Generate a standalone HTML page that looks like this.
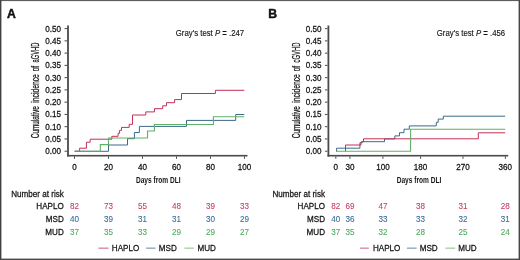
<!DOCTYPE html><html><head><meta charset="utf-8"><style>
html,body{margin:0;padding:0;background:#fff;overflow:hidden;}
svg{display:block;font-family:"Liberation Sans",sans-serif;}
#g{filter:blur(0.35px);}
</style></head><body>
<svg width="520" height="260" viewBox="0 0 520 260">
<rect x="0" y="0" width="520" height="260" fill="#fff"/>
<g id="g">
<rect x="67.10" y="25.5" width="1.8" height="131" fill="#4a4a4a"/>
<rect x="67.10" y="154.9" width="180.40" height="1.6" fill="#4a4a4a"/>
<rect x="64.50" y="28.10" width="2.6" height="1" fill="#4a4a4a"/>
<text transform="translate(61.00,31.50) scale(1,1.15)" font-size="8.1" fill="#141414" stroke="#141414" stroke-width="0.24" text-anchor="end">0.50</text>
<rect x="64.50" y="40.36" width="2.6" height="1" fill="#4a4a4a"/>
<text transform="translate(61.00,43.76) scale(1,1.15)" font-size="8.1" fill="#141414" stroke="#141414" stroke-width="0.24" text-anchor="end">0.45</text>
<rect x="64.50" y="52.62" width="2.6" height="1" fill="#4a4a4a"/>
<text transform="translate(61.00,56.02) scale(1,1.15)" font-size="8.1" fill="#141414" stroke="#141414" stroke-width="0.24" text-anchor="end">0.40</text>
<rect x="64.50" y="64.88" width="2.6" height="1" fill="#4a4a4a"/>
<text transform="translate(61.00,68.28) scale(1,1.15)" font-size="8.1" fill="#141414" stroke="#141414" stroke-width="0.24" text-anchor="end">0.35</text>
<rect x="64.50" y="77.14" width="2.6" height="1" fill="#4a4a4a"/>
<text transform="translate(61.00,80.54) scale(1,1.15)" font-size="8.1" fill="#141414" stroke="#141414" stroke-width="0.24" text-anchor="end">0.30</text>
<rect x="64.50" y="89.40" width="2.6" height="1" fill="#4a4a4a"/>
<text transform="translate(61.00,92.80) scale(1,1.15)" font-size="8.1" fill="#141414" stroke="#141414" stroke-width="0.24" text-anchor="end">0.25</text>
<rect x="64.50" y="101.66" width="2.6" height="1" fill="#4a4a4a"/>
<text transform="translate(61.00,105.06) scale(1,1.15)" font-size="8.1" fill="#141414" stroke="#141414" stroke-width="0.24" text-anchor="end">0.20</text>
<rect x="64.50" y="113.92" width="2.6" height="1" fill="#4a4a4a"/>
<text transform="translate(61.00,117.32) scale(1,1.15)" font-size="8.1" fill="#141414" stroke="#141414" stroke-width="0.24" text-anchor="end">0.15</text>
<rect x="64.50" y="126.18" width="2.6" height="1" fill="#4a4a4a"/>
<text transform="translate(61.00,129.58) scale(1,1.15)" font-size="8.1" fill="#141414" stroke="#141414" stroke-width="0.24" text-anchor="end">0.10</text>
<rect x="64.50" y="138.44" width="2.6" height="1" fill="#4a4a4a"/>
<text transform="translate(61.00,141.84) scale(1,1.15)" font-size="8.1" fill="#141414" stroke="#141414" stroke-width="0.24" text-anchor="end">0.05</text>
<rect x="64.50" y="150.70" width="2.6" height="1" fill="#4a4a4a"/>
<text transform="translate(61.00,154.10) scale(1,1.15)" font-size="8.1" fill="#141414" stroke="#141414" stroke-width="0.24" text-anchor="end">0.00</text>
<rect x="74.00" y="156.4" width="1" height="2.4" fill="#4a4a4a"/>
<text transform="translate(74.50,169.60) scale(1,1.15)" font-size="8.1" fill="#141414" stroke="#141414" stroke-width="0.24" text-anchor="middle">0</text>
<rect x="108.00" y="156.4" width="1" height="2.4" fill="#4a4a4a"/>
<text transform="translate(108.50,169.60) scale(1,1.15)" font-size="8.1" fill="#141414" stroke="#141414" stroke-width="0.24" text-anchor="middle">20</text>
<rect x="142.00" y="156.4" width="1" height="2.4" fill="#4a4a4a"/>
<text transform="translate(142.50,169.60) scale(1,1.15)" font-size="8.1" fill="#141414" stroke="#141414" stroke-width="0.24" text-anchor="middle">40</text>
<rect x="176.00" y="156.4" width="1" height="2.4" fill="#4a4a4a"/>
<text transform="translate(176.50,169.60) scale(1,1.15)" font-size="8.1" fill="#141414" stroke="#141414" stroke-width="0.24" text-anchor="middle">60</text>
<rect x="210.00" y="156.4" width="1" height="2.4" fill="#4a4a4a"/>
<text transform="translate(210.50,169.60) scale(1,1.15)" font-size="8.1" fill="#141414" stroke="#141414" stroke-width="0.24" text-anchor="middle">80</text>
<rect x="244.00" y="156.4" width="1" height="2.4" fill="#4a4a4a"/>
<text transform="translate(244.50,169.60) scale(1,1.15)" font-size="8.1" fill="#141414" stroke="#141414" stroke-width="0.24" text-anchor="middle">100</text>
<text x="7.00" y="17.7" font-size="12.2" font-weight="bold" fill="#111" stroke="#111" stroke-width="0.45">A</text>
<text transform="translate(175.80,36.10) scale(1,1.15)" font-size="7.8" fill="#141414" stroke="#141414" stroke-width="0.12" text-anchor="start">Gray's test <tspan font-style="italic">P</tspan> <tspan font-weight="bold">=</tspan> .247</text>
<text transform="translate(38.80,138.22) rotate(-90) scale(0.616,1)" font-size="10.4" fill="#141414" stroke="#141414" stroke-width="0.25">Cumulative</text>
<text transform="translate(38.80,102.72) rotate(-90) scale(0.651,1)" font-size="10.4" fill="#141414" stroke="#141414" stroke-width="0.25">incidence</text>
<text transform="translate(38.80,71.33) rotate(-90) scale(0.624,1)" font-size="10.4" fill="#141414" stroke="#141414" stroke-width="0.25">of</text>
<text transform="translate(38.80,62.42) rotate(-90) scale(0.553,1)" font-size="10.4" fill="#141414" stroke="#141414" stroke-width="0.25">aGVHD</text>
<text transform="translate(135.90,183.4) scale(0.68,1)" font-size="9.7" font-weight="bold" fill="#141414">Days from DLI</text>
<text transform="translate(63.80,197.10) scale(1,1.15)" font-size="8.1" fill="#141414" stroke="#141414" stroke-width="0.24" text-anchor="end">Number at risk</text>
<text transform="translate(63.80,209.40) scale(1,1.15)" font-size="8.1" fill="#141414" stroke="#141414" stroke-width="0.24" text-anchor="end">HAPLO</text>
<text transform="translate(74.50,209.40) scale(1,1.15)" font-size="8.1" fill="#c63d60" stroke="#c63d60" stroke-width="0.08" text-anchor="middle">82</text>
<text transform="translate(108.50,209.40) scale(1,1.15)" font-size="8.1" fill="#c63d60" stroke="#c63d60" stroke-width="0.08" text-anchor="middle">73</text>
<text transform="translate(142.50,209.40) scale(1,1.15)" font-size="8.1" fill="#c63d60" stroke="#c63d60" stroke-width="0.08" text-anchor="middle">55</text>
<text transform="translate(176.50,209.40) scale(1,1.15)" font-size="8.1" fill="#c63d60" stroke="#c63d60" stroke-width="0.08" text-anchor="middle">48</text>
<text transform="translate(210.50,209.40) scale(1,1.15)" font-size="8.1" fill="#c63d60" stroke="#c63d60" stroke-width="0.08" text-anchor="middle">39</text>
<text transform="translate(244.50,209.40) scale(1,1.15)" font-size="8.1" fill="#c63d60" stroke="#c63d60" stroke-width="0.08" text-anchor="middle">33</text>
<text transform="translate(63.80,222.40) scale(1,1.15)" font-size="8.1" fill="#141414" stroke="#141414" stroke-width="0.24" text-anchor="end">MSD</text>
<text transform="translate(74.50,222.40) scale(1,1.15)" font-size="8.1" fill="#386a98" stroke="#386a98" stroke-width="0.08" text-anchor="middle">40</text>
<text transform="translate(108.50,222.40) scale(1,1.15)" font-size="8.1" fill="#386a98" stroke="#386a98" stroke-width="0.08" text-anchor="middle">39</text>
<text transform="translate(142.50,222.40) scale(1,1.15)" font-size="8.1" fill="#386a98" stroke="#386a98" stroke-width="0.08" text-anchor="middle">31</text>
<text transform="translate(176.50,222.40) scale(1,1.15)" font-size="8.1" fill="#386a98" stroke="#386a98" stroke-width="0.08" text-anchor="middle">31</text>
<text transform="translate(210.50,222.40) scale(1,1.15)" font-size="8.1" fill="#386a98" stroke="#386a98" stroke-width="0.08" text-anchor="middle">30</text>
<text transform="translate(244.50,222.40) scale(1,1.15)" font-size="8.1" fill="#386a98" stroke="#386a98" stroke-width="0.08" text-anchor="middle">29</text>
<text transform="translate(63.80,234.70) scale(1,1.15)" font-size="8.1" fill="#141414" stroke="#141414" stroke-width="0.24" text-anchor="end">MUD</text>
<text transform="translate(74.50,234.70) scale(1,1.15)" font-size="8.1" fill="#4aaa58" stroke="#4aaa58" stroke-width="0.08" text-anchor="middle">37</text>
<text transform="translate(108.50,234.70) scale(1,1.15)" font-size="8.1" fill="#4aaa58" stroke="#4aaa58" stroke-width="0.08" text-anchor="middle">35</text>
<text transform="translate(142.50,234.70) scale(1,1.15)" font-size="8.1" fill="#4aaa58" stroke="#4aaa58" stroke-width="0.08" text-anchor="middle">33</text>
<text transform="translate(176.50,234.70) scale(1,1.15)" font-size="8.1" fill="#4aaa58" stroke="#4aaa58" stroke-width="0.08" text-anchor="middle">29</text>
<text transform="translate(210.50,234.70) scale(1,1.15)" font-size="8.1" fill="#4aaa58" stroke="#4aaa58" stroke-width="0.08" text-anchor="middle">29</text>
<text transform="translate(244.50,234.70) scale(1,1.15)" font-size="8.1" fill="#4aaa58" stroke="#4aaa58" stroke-width="0.08" text-anchor="middle">27</text>
<rect x="327.50" y="25.5" width="1.8" height="131" fill="#4a4a4a"/>
<rect x="327.50" y="154.9" width="180.70" height="1.6" fill="#4a4a4a"/>
<rect x="324.90" y="28.10" width="2.6" height="1" fill="#4a4a4a"/>
<text transform="translate(321.40,31.50) scale(1,1.15)" font-size="8.1" fill="#141414" stroke="#141414" stroke-width="0.24" text-anchor="end">0.50</text>
<rect x="324.90" y="40.36" width="2.6" height="1" fill="#4a4a4a"/>
<text transform="translate(321.40,43.76) scale(1,1.15)" font-size="8.1" fill="#141414" stroke="#141414" stroke-width="0.24" text-anchor="end">0.45</text>
<rect x="324.90" y="52.62" width="2.6" height="1" fill="#4a4a4a"/>
<text transform="translate(321.40,56.02) scale(1,1.15)" font-size="8.1" fill="#141414" stroke="#141414" stroke-width="0.24" text-anchor="end">0.40</text>
<rect x="324.90" y="64.88" width="2.6" height="1" fill="#4a4a4a"/>
<text transform="translate(321.40,68.28) scale(1,1.15)" font-size="8.1" fill="#141414" stroke="#141414" stroke-width="0.24" text-anchor="end">0.35</text>
<rect x="324.90" y="77.14" width="2.6" height="1" fill="#4a4a4a"/>
<text transform="translate(321.40,80.54) scale(1,1.15)" font-size="8.1" fill="#141414" stroke="#141414" stroke-width="0.24" text-anchor="end">0.30</text>
<rect x="324.90" y="89.40" width="2.6" height="1" fill="#4a4a4a"/>
<text transform="translate(321.40,92.80) scale(1,1.15)" font-size="8.1" fill="#141414" stroke="#141414" stroke-width="0.24" text-anchor="end">0.25</text>
<rect x="324.90" y="101.66" width="2.6" height="1" fill="#4a4a4a"/>
<text transform="translate(321.40,105.06) scale(1,1.15)" font-size="8.1" fill="#141414" stroke="#141414" stroke-width="0.24" text-anchor="end">0.20</text>
<rect x="324.90" y="113.92" width="2.6" height="1" fill="#4a4a4a"/>
<text transform="translate(321.40,117.32) scale(1,1.15)" font-size="8.1" fill="#141414" stroke="#141414" stroke-width="0.24" text-anchor="end">0.15</text>
<rect x="324.90" y="126.18" width="2.6" height="1" fill="#4a4a4a"/>
<text transform="translate(321.40,129.58) scale(1,1.15)" font-size="8.1" fill="#141414" stroke="#141414" stroke-width="0.24" text-anchor="end">0.10</text>
<rect x="324.90" y="138.44" width="2.6" height="1" fill="#4a4a4a"/>
<text transform="translate(321.40,141.84) scale(1,1.15)" font-size="8.1" fill="#141414" stroke="#141414" stroke-width="0.24" text-anchor="end">0.05</text>
<rect x="324.90" y="150.70" width="2.6" height="1" fill="#4a4a4a"/>
<text transform="translate(321.40,154.10) scale(1,1.15)" font-size="8.1" fill="#141414" stroke="#141414" stroke-width="0.24" text-anchor="end">0.00</text>
<rect x="335.30" y="156.4" width="1" height="2.4" fill="#4a4a4a"/>
<text transform="translate(335.80,169.60) scale(1,1.15)" font-size="8.1" fill="#141414" stroke="#141414" stroke-width="0.24" text-anchor="middle">0</text>
<rect x="349.43" y="156.4" width="1" height="2.4" fill="#4a4a4a"/>
<text transform="translate(349.93,169.60) scale(1,1.15)" font-size="8.1" fill="#141414" stroke="#141414" stroke-width="0.24" text-anchor="middle">30</text>
<rect x="382.40" y="156.4" width="1" height="2.4" fill="#4a4a4a"/>
<text transform="translate(382.90,169.60) scale(1,1.15)" font-size="8.1" fill="#141414" stroke="#141414" stroke-width="0.24" text-anchor="middle">100</text>
<rect x="420.08" y="156.4" width="1" height="2.4" fill="#4a4a4a"/>
<text transform="translate(420.58,169.60) scale(1,1.15)" font-size="8.1" fill="#141414" stroke="#141414" stroke-width="0.24" text-anchor="middle">180</text>
<rect x="462.47" y="156.4" width="1" height="2.4" fill="#4a4a4a"/>
<text transform="translate(462.97,169.60) scale(1,1.15)" font-size="8.1" fill="#141414" stroke="#141414" stroke-width="0.24" text-anchor="middle">270</text>
<rect x="504.86" y="156.4" width="1" height="2.4" fill="#4a4a4a"/>
<text transform="translate(505.36,169.60) scale(1,1.15)" font-size="8.1" fill="#141414" stroke="#141414" stroke-width="0.24" text-anchor="middle">360</text>
<text x="268.30" y="17.7" font-size="12.2" font-weight="bold" fill="#111" stroke="#111" stroke-width="0.45">B</text>
<text transform="translate(436.80,36.10) scale(1,1.15)" font-size="7.8" fill="#141414" stroke="#141414" stroke-width="0.12" text-anchor="start">Gray's test <tspan font-style="italic">P</tspan> <tspan font-weight="bold">=</tspan> .456</text>
<text transform="translate(299.90,138.22) rotate(-90) scale(0.616,1)" font-size="10.4" fill="#141414" stroke="#141414" stroke-width="0.25">Cumulative</text>
<text transform="translate(299.90,102.72) rotate(-90) scale(0.651,1)" font-size="10.4" fill="#141414" stroke="#141414" stroke-width="0.25">incidence</text>
<text transform="translate(299.90,71.33) rotate(-90) scale(0.624,1)" font-size="10.4" fill="#141414" stroke="#141414" stroke-width="0.25">of</text>
<text transform="translate(299.90,62.42) rotate(-90) scale(0.563,1)" font-size="10.4" fill="#141414" stroke="#141414" stroke-width="0.25">cGVHD</text>
<text transform="translate(396.70,183.4) scale(0.68,1)" font-size="9.7" font-weight="bold" fill="#141414">Days from DLI</text>
<text transform="translate(325.00,197.10) scale(1,1.15)" font-size="8.1" fill="#141414" stroke="#141414" stroke-width="0.24" text-anchor="end">Number at risk</text>
<text transform="translate(325.00,209.40) scale(1,1.15)" font-size="8.1" fill="#141414" stroke="#141414" stroke-width="0.24" text-anchor="end">HAPLO</text>
<text transform="translate(335.80,209.40) scale(1,1.15)" font-size="8.1" fill="#c63d60" stroke="#c63d60" stroke-width="0.08" text-anchor="middle">82</text>
<text transform="translate(349.93,209.40) scale(1,1.15)" font-size="8.1" fill="#c63d60" stroke="#c63d60" stroke-width="0.08" text-anchor="middle">69</text>
<text transform="translate(382.90,209.40) scale(1,1.15)" font-size="8.1" fill="#c63d60" stroke="#c63d60" stroke-width="0.08" text-anchor="middle">47</text>
<text transform="translate(420.58,209.40) scale(1,1.15)" font-size="8.1" fill="#c63d60" stroke="#c63d60" stroke-width="0.08" text-anchor="middle">38</text>
<text transform="translate(462.97,209.40) scale(1,1.15)" font-size="8.1" fill="#c63d60" stroke="#c63d60" stroke-width="0.08" text-anchor="middle">31</text>
<text transform="translate(505.36,209.40) scale(1,1.15)" font-size="8.1" fill="#c63d60" stroke="#c63d60" stroke-width="0.08" text-anchor="middle">28</text>
<text transform="translate(325.00,222.40) scale(1,1.15)" font-size="8.1" fill="#141414" stroke="#141414" stroke-width="0.24" text-anchor="end">MSD</text>
<text transform="translate(335.80,222.40) scale(1,1.15)" font-size="8.1" fill="#386a98" stroke="#386a98" stroke-width="0.08" text-anchor="middle">40</text>
<text transform="translate(349.93,222.40) scale(1,1.15)" font-size="8.1" fill="#386a98" stroke="#386a98" stroke-width="0.08" text-anchor="middle">36</text>
<text transform="translate(382.90,222.40) scale(1,1.15)" font-size="8.1" fill="#386a98" stroke="#386a98" stroke-width="0.08" text-anchor="middle">33</text>
<text transform="translate(420.58,222.40) scale(1,1.15)" font-size="8.1" fill="#386a98" stroke="#386a98" stroke-width="0.08" text-anchor="middle">33</text>
<text transform="translate(462.97,222.40) scale(1,1.15)" font-size="8.1" fill="#386a98" stroke="#386a98" stroke-width="0.08" text-anchor="middle">32</text>
<text transform="translate(505.36,222.40) scale(1,1.15)" font-size="8.1" fill="#386a98" stroke="#386a98" stroke-width="0.08" text-anchor="middle">31</text>
<text transform="translate(325.00,234.70) scale(1,1.15)" font-size="8.1" fill="#141414" stroke="#141414" stroke-width="0.24" text-anchor="end">MUD</text>
<text transform="translate(335.80,234.70) scale(1,1.15)" font-size="8.1" fill="#4aaa58" stroke="#4aaa58" stroke-width="0.08" text-anchor="middle">37</text>
<text transform="translate(349.93,234.70) scale(1,1.15)" font-size="8.1" fill="#4aaa58" stroke="#4aaa58" stroke-width="0.08" text-anchor="middle">35</text>
<text transform="translate(382.90,234.70) scale(1,1.15)" font-size="8.1" fill="#4aaa58" stroke="#4aaa58" stroke-width="0.08" text-anchor="middle">32</text>
<text transform="translate(420.58,234.70) scale(1,1.15)" font-size="8.1" fill="#4aaa58" stroke="#4aaa58" stroke-width="0.08" text-anchor="middle">28</text>
<text transform="translate(462.97,234.70) scale(1,1.15)" font-size="8.1" fill="#4aaa58" stroke="#4aaa58" stroke-width="0.08" text-anchor="middle">25</text>
<text transform="translate(505.36,234.70) scale(1,1.15)" font-size="8.1" fill="#4aaa58" stroke="#4aaa58" stroke-width="0.08" text-anchor="middle">24</text>
<path d="M74.70,151.30 L108.50,151.30 L108.50,145.00 L127.50,145.00 L127.50,138.70 L134.40,138.70 L134.40,132.50 L139.40,132.50 L139.40,126.40 L186.50,126.40 L186.50,120.40 L235.70,120.40 L235.70,114.50 L244.30,114.50" fill="none" stroke="#3b6a88" stroke-width="1.0" stroke-linejoin="miter"/>
<path d="M74.70,151.30 L79.60,151.30 L79.60,148.20 L86.40,148.20 L86.40,142.20 L90.20,142.20 L90.20,139.20 L111.80,139.20 L111.80,136.30 L118.10,136.30 L118.10,133.30 L119.60,133.30 L119.60,130.30 L121.50,130.30 L121.50,127.40 L129.20,127.40 L129.20,124.30 L132.50,124.30 L132.50,115.00 L145.80,115.00 L145.80,111.90 L154.50,111.90 L154.50,108.70 L162.70,108.70 L162.70,105.80 L166.50,105.80 L166.50,102.70 L174.60,102.70 L174.60,99.60 L181.50,99.60 L181.50,93.50 L215.40,93.50 L215.40,90.30 L244.30,90.30" fill="none" stroke="#c42f58" stroke-width="1.0" stroke-linejoin="miter"/>
<path d="M74.70,151.30 L100.30,151.30 L100.30,144.60 L108.50,144.60 L108.50,138.00 L147.50,138.00 L147.50,131.00 L154.40,131.00 L154.40,124.50 L213.40,124.50 L213.40,116.80 L244.30,116.80" fill="none" stroke="#5fb068" stroke-width="1.1" stroke-linejoin="miter"/>
<path d="M336.00,151.30 L336.60,151.30 L336.60,148.20 L359.90,148.20 L359.90,142.80 L362.00,142.80 L362.00,141.70 L384.50,141.70 L384.50,138.90 L394.80,138.90 L394.80,135.90 L399.50,135.90 L399.50,132.70 L404.00,132.70 L404.00,129.20 L409.30,129.20 L409.30,125.90 L436.30,125.90 L436.30,122.30 L438.20,122.30 L438.20,119.10 L443.30,119.10 L443.30,116.20 L505.20,116.20" fill="none" stroke="#3b6a88" stroke-width="1.0" stroke-linejoin="miter"/>
<path d="M345.50,151.30 L345.50,151.30 L345.50,145.00 L361.00,145.00 L361.00,141.90 L363.50,141.90 L363.50,138.80 L478.30,138.80 L478.30,132.80 L505.20,132.80" fill="none" stroke="#c42f58" stroke-width="1.0" stroke-linejoin="miter"/>
<path d="M336.00,151.30 L410.60,151.30 L410.60,129.30 L505.20,129.30" fill="none" stroke="#5fb068" stroke-width="1.1" stroke-linejoin="miter"/>
<rect x="98.40" y="247.6" width="10.10" height="1.1" fill="#c42f58" opacity="0.72"/>
<text transform="translate(111.80,250.80) scale(1,1.15)" font-size="8.1" fill="#141414" stroke="#141414" stroke-width="0.24" text-anchor="start">HAPLO</text>
<rect x="146.10" y="247.6" width="9.40" height="1.1" fill="#3b6a88" opacity="0.72"/>
<text transform="translate(158.80,250.80) scale(1,1.15)" font-size="8.1" fill="#141414" stroke="#141414" stroke-width="0.24" text-anchor="start">MSD</text>
<rect x="184.40" y="247.6" width="9.40" height="1.1" fill="#5fb068" opacity="0.72"/>
<text transform="translate(197.50,250.80) scale(1,1.15)" font-size="8.1" fill="#141414" stroke="#141414" stroke-width="0.24" text-anchor="start">MUD</text>
<rect x="360.10" y="247.6" width="8.70" height="1.1" fill="#c42f58" opacity="0.72"/>
<text transform="translate(372.90,250.80) scale(1,1.15)" font-size="8.1" fill="#141414" stroke="#141414" stroke-width="0.24" text-anchor="start">HAPLO</text>
<rect x="406.90" y="247.6" width="9.70" height="1.1" fill="#3b6a88" opacity="0.72"/>
<text transform="translate(419.70,250.80) scale(1,1.15)" font-size="8.1" fill="#141414" stroke="#141414" stroke-width="0.24" text-anchor="start">MSD</text>
<rect x="445.40" y="247.6" width="9.70" height="1.1" fill="#5fb068" opacity="0.72"/>
<text transform="translate(458.20,250.80) scale(1,1.15)" font-size="8.1" fill="#141414" stroke="#141414" stroke-width="0.24" text-anchor="start">MUD</text>
</g>
<rect x="0" y="0" width="520" height="1.1" fill="#5e5e5e"/>
<rect x="0" y="0" width="1.4" height="260" fill="#404040"/>
<rect x="518.6" y="0" width="1.4" height="260" fill="#454545"/>
<rect x="0" y="258.6" width="520" height="1.4" fill="#4a4a4a"/>
</svg></body></html>
